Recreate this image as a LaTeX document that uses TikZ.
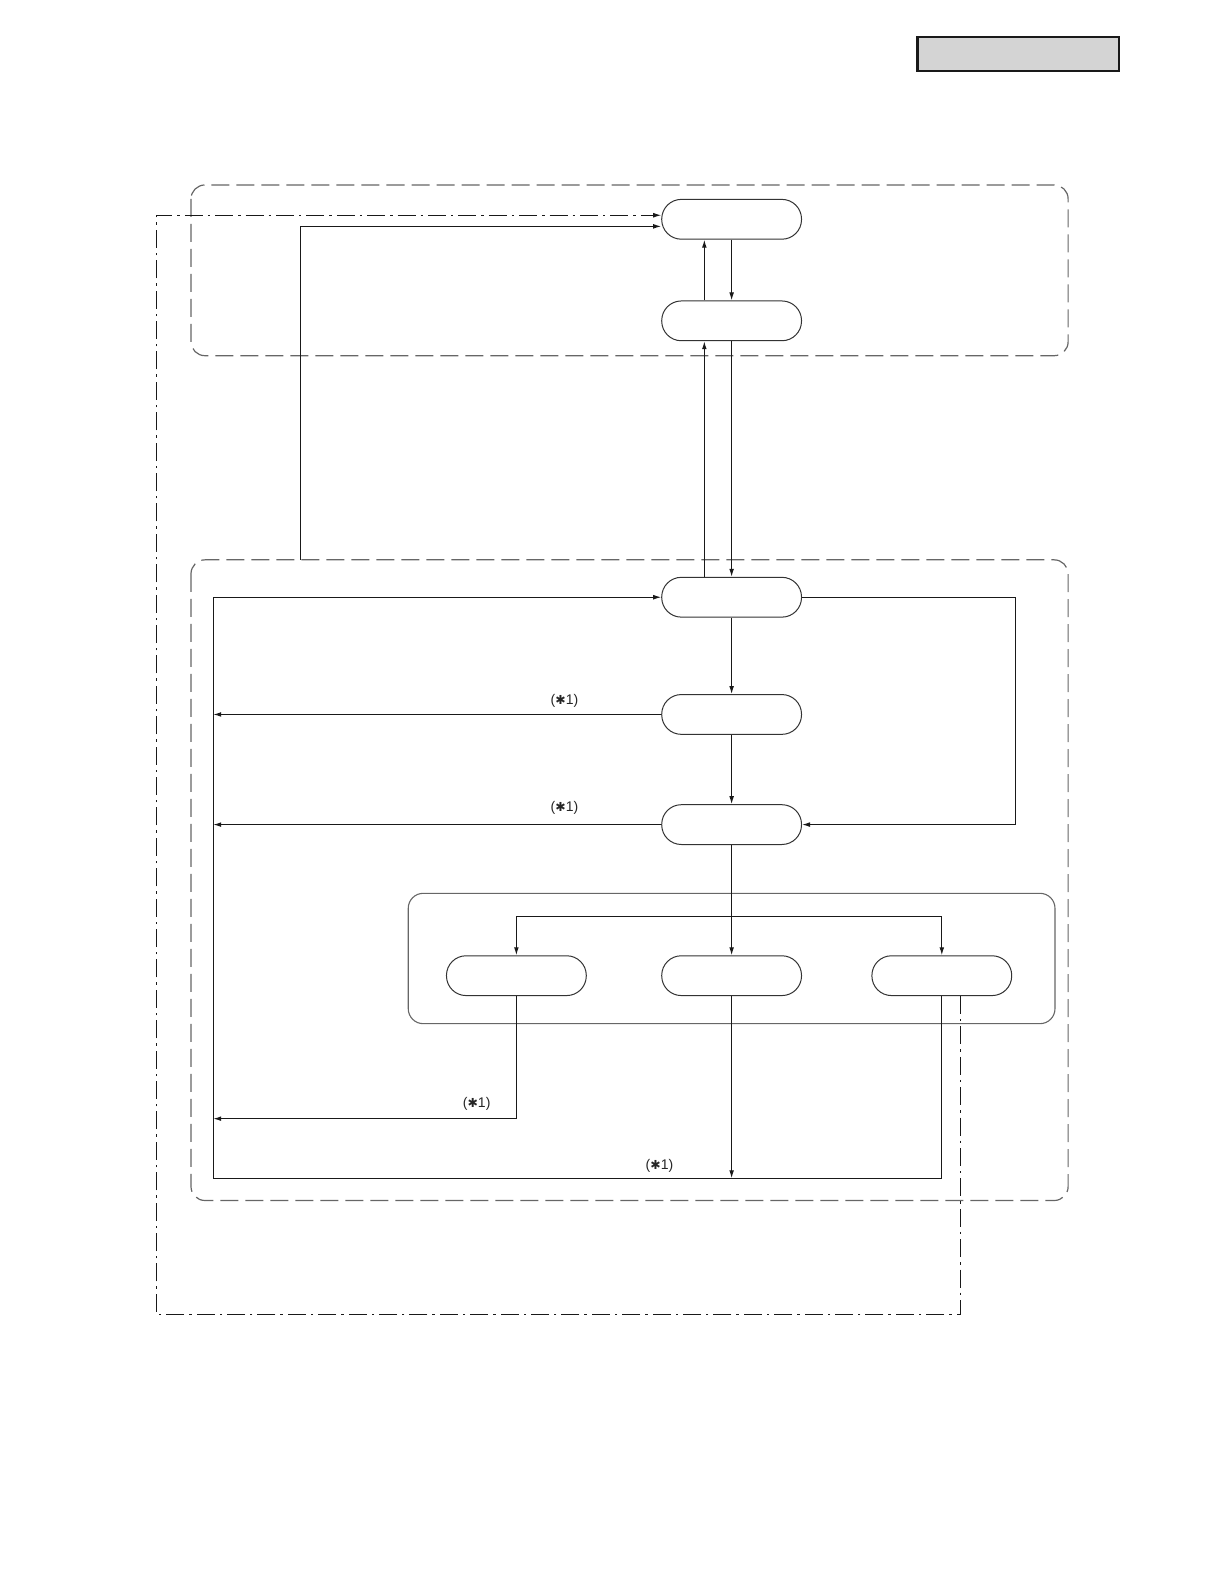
\documentclass[tikz,border=0pt]{standalone}
\usepackage{fontspec}
\setmainfont{Liberation Sans}
\newfontfamily\djv{DejaVu Sans}
\usetikzlibrary{arrows.meta}
\begin{document}
\begin{tikzpicture}[x=0.50525pt,y=-0.50525pt,
  stad/.style={draw=black!80, line width=0.5pt, rounded corners=9.8pt,
    minimum width=69.9pt, minimum height=19.9pt, inner sep=0pt, fill=white},
  conn/.style={draw=black!90, line width=0.55pt},
  arr/.style={conn,-{Latex[length=4pt,width=2.4pt]}},
  zone/.style={draw=black!60, line width=0.6pt, dash pattern=on 9pt off 3.5pt, rounded corners=7pt},
  inbox/.style={draw=black!60, line width=0.55pt, rounded corners=7.5pt},
  dd/.style={draw=black!90, line width=0.5pt, dash pattern=on 9pt off 2.5pt on 1.2pt off 2.5pt},
  lbl/.style={font=\fontsize{7}{8}\selectfont, inner sep=0pt, text=black!85},
  tag/.style={draw=black!90, fill=black!17, line width=1.1pt}]
\useasboundingbox (0,0) rectangle (1211.3,1567.5);
% header tag
\draw[tag] (908,37) rectangle (1107,70);
% zones
\draw[zone] (189,183) rectangle (1057,352);
\draw[zone] (189,554) rectangle (1057,1188);
\draw[inbox] (404,884) rectangle (1044,1013);
% nodes
\node[stad] (A) at (724,217) {};
\node[stad] (B) at (724,317.5) {};
\node[stad] (C) at (724,591) {};
\node[stad] (D) at (724,707) {};
\node[stad] (E) at (724,816) {};
\node[stad] (F1) at (511,965.5) {};
\node[stad] (F2) at (724,965.5) {};
\node[stad] (F3) at (932,965.5) {};
% helper coordinates
\coordinate (s1) at (297,554);
\coordinate (cr) at (1005,591);
\coordinate (j) at (724,907);
\coordinate (bl) at (211,1166);
\coordinate (f1l) at (211,1107);
\coordinate (dd1) at (155,1301);
% top connectors
\draw[arr] (A) -- (B);
\draw[arr] ([xshift=-13.64pt]B.north) -- ([xshift=-13.64pt]A.south);
\draw[arr] (B) -- (C);
\draw[arr] ([xshift=-13.64pt]C.north) -- ([xshift=-13.64pt]B.south);
\draw[arr] (s1) |- ([yshift=-3.54pt]A.west);
% dash-dot return
\draw[dd,-{Latex[length=4pt,width=2.4pt]}] ([xshift=9.1pt]F3.south) |- (dd1) |- ([yshift=2.02pt]A.west);
% lower block
\draw[arr] (C) -- (D);
\draw[arr] (D) -- (E);
\draw[arr] (C.east) -- (cr) |- (E.east);
\draw[conn] (E) -- (j);
\draw[arr] (j) -- (F2);
\draw[arr] (j) -| (F1);
\draw[arr] (j) -| (F3);
\draw[arr] (F3) |- (bl) |- (C);
\draw[arr] (D) -- (D -| bl);
\draw[arr] (E) -- (E -| bl);
\draw[arr] (F1) |- (f1l);
\draw[arr] (F2) -- (F2 |- bl);
% labels
\node[lbl] (l1) at (558.6,693.7) {({\djv\fontsize{6.2}{7}\selectfont ✱}1)};
\node[lbl] (l2) at (558.6,799.6) {({\djv\fontsize{6.2}{7}\selectfont ✱}1)};
\node[lbl] (l3) at (471.7,1092.8) {({\djv\fontsize{6.2}{7}\selectfont ✱}1)};
\node[lbl] (l4) at (652.6,1153.6) {({\djv\fontsize{6.2}{7}\selectfont ✱}1)};
\end{tikzpicture}
\end{document}
